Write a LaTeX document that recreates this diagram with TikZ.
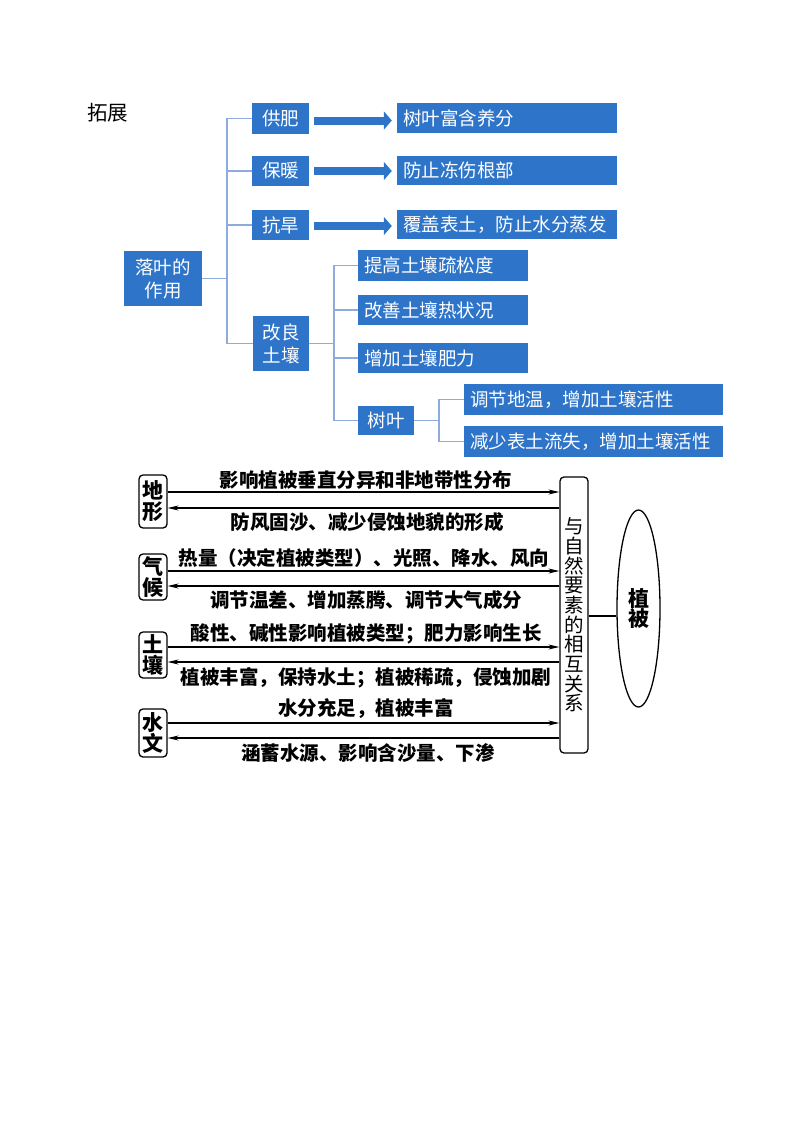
\documentclass[tikz,border=0pt]{standalone}
\usepackage{fontspec}
\newfontfamily\cjk{Noto Sans CJK SC}
\usetikzlibrary{arrows.meta,shapes.geometric}
\definecolor{myblue}{RGB}{46,117,202}
\definecolor{conncol}{RGB}{143,170,220}
\begin{document}
\begin{tikzpicture}[x=1pt,y=-1pt,
  bb/.style={fill=myblue,text=white,inner sep=0pt,align=center,font=\cjk\fontsize{18.5}{23}\selectfont},
  lb/.style={bb,text width=#1,align=left,inner xsep=6pt,inner ysep=0pt},
  conn/.style={draw=conncol,line width=1.4pt},
  bigarr/.style={draw=myblue,line width=8pt,-{Triangle[width=18pt,length=8pt]}},
  sbox/.style={draw,rounded corners=4pt,line width=1.3pt,inner sep=0pt,minimum width=28pt,align=center,font=\cjk\bfseries\fontsize{21}{21}\selectfont},
  lab/.style={inner sep=0pt,font=\cjk\bfseries\fontsize{19.5}{22}\selectfont},
  harr/.style={line width=1.2pt,-{Stealth[length=11pt,width=5pt]}}]
\useasboundingbox[fill=white] (0,0) rectangle (800,1132);
% ---------- top part ----------
\node[inner sep=0pt,font=\cjk\fontsize{20.5}{24}\selectfont] (tz) at (107.5,112.5) {拓展};
\node[bb,minimum width=78pt,minimum height=55pt] (lyzy) at (163,278.5) {落叶的\\作用};
\node[bb,minimum width=57pt,minimum height=31pt] (gf) at (280.5,118.5) {供肥};
\node[bb,minimum width=57pt,minimum height=30pt] (bn) at (280.5,171) {保暖};
\node[bb,minimum width=57pt,minimum height=30pt] (kh) at (280.5,225) {抗旱};
\node[bb,minimum width=56pt,minimum height=55pt] (glr) at (281,343.5) {改良\\土壤};
\node[lb=208pt,minimum height=30pt] (r1) at (507,118) {树叶富含养分};
\node[lb=208pt,minimum height=29pt] (r2) at (507,170.5) {防止冻伤根部};
\node[lb=208pt,minimum height=29pt] (r3) at (507,224.5) {覆盖表土，防止水分蒸发};
\node[lb=158pt,minimum height=31pt] (s1) at (443,265.5) {提高土壤疏松度};
\node[lb=158pt,minimum height=30pt] (s2) at (443,310) {改善土壤热状况};
\node[lb=158pt,minimum height=30pt] (s3) at (443,358) {增加土壤肥力};
\node[bb,minimum width=56pt,minimum height=29pt] (sy) at (386,420.5) {树叶};
\node[lb=247pt,minimum height=31pt] (t1) at (593.5,399.5) {调节地温，增加土壤活性};
\node[lb=247pt,minimum height=31pt] (t2) at (593.5,441.5) {减少表土流失，增加土壤活性};
\coordinate (v1) at (227,0);
\coordinate (v2) at (334,0);
\coordinate (v3) at (439,0);
\draw[conn] (gf.west) -| (glr.west -| v1) -- (glr.west);
\draw[conn] (bn.west) -- (bn.west -| v1);
\draw[conn] (kh.west) -- (kh.west -| v1);
\draw[conn] (lyzy.east) -- (lyzy.east -| v1);
\draw[conn] (s1.west) -| (sy.west -| v2) -- (sy.west);
\draw[conn] (s2.west) -- (s2.west -| v2);
\draw[conn] (s3.west) -- (s3.west -| v2);
\draw[conn] (glr.east) -- (glr.east -| v2);
\draw[conn] (t1.west) -| (t2.west -| v3) -- (t2.west);
\draw[conn] (sy.east) -- (sy.east -| v3);
\draw[bigarr] ([xshift=5pt,yshift=-2pt]gf.east) -- ([xshift=-5pt,yshift=-2pt]gf.east -| r1.west);
\draw[bigarr] ([xshift=5pt]bn.east) -- ([xshift=-5pt]bn.east -| r2.west);
\draw[bigarr] ([xshift=5pt,yshift=-1pt]kh.east) -- ([xshift=-5pt,yshift=-1pt]kh.east -| r3.west);
% ---------- bottom part ----------
\node[sbox,minimum height=53pt] (dx) at (153,501.5) {地\\形};
\node[sbox,minimum height=46pt] (qh) at (153,577) {气\\候};
\node[sbox,minimum height=46pt] (tr) at (153,655) {土\\壤};
\node[sbox,minimum height=48pt] (sw) at (153,733) {水\\文};
\node[draw,rounded corners=4pt,line width=1.3pt,inner sep=0pt,minimum width=28pt,minimum height=276pt,align=center,
      font=\cjk\fontsize{19.5}{19.7}\selectfont] (tb) at (574,615) {与\\自\\然\\要\\素\\的\\相\\互\\关\\系};
\node[draw,ellipse,line width=1.3pt,inner sep=0pt,minimum width=43pt,minimum height=197pt,align=center,
      font=\cjk\bfseries\fontsize{21}{20}\selectfont] (el) at (638.5,608.5) {植\\被};
\draw[line width=1.2pt] (tb.east |- 0,616) -- (el.west |- 0,616);
% arrows
\draw[harr] (dx.east |- 0,492) -- (tb.west |- 0,492);
\draw[harr] (tb.west |- 0,508) -- (dx.east |- 0,508);
\draw[harr] (qh.east |- 0,571) -- (tb.west |- 0,571);
\draw[harr] (tb.west |- 0,586) -- (qh.east |- 0,586);
\draw[harr] (tr.east |- 0,647) -- (tb.west |- 0,647);
\draw[harr] (tb.west |- 0,662) -- (tr.east |- 0,662);
\draw[harr] (sw.east |- 0,723) -- (tb.west |- 0,723);
\draw[harr] (tb.west |- 0,738) -- (sw.east |- 0,738);
% labels
\node[lab] (l1) at (366,480) {影响植被垂直分异和非地带性分布};
\node[lab] (l2) at (367,522) {防风固沙、减少侵蚀地貌的形成};
\node[lab] (l3) at (364,558) {热量（决定植被类型）、光照、降水、风向};
\node[lab] (l4) at (366,600) {调节温差、增加蒸腾、调节大气成分};
\node[lab] (l5) at (366,634) {酸性、碱性影响植被类型；肥力影响生长};
\node[lab] (l6) at (366,678) {植被丰富，保持水土；植被稀疏，侵蚀加剧};
\node[lab] (l7) at (366,709) {水分充足，植被丰富};
\node[lab] (l8) at (368,753) {涵蓄水源、影响含沙量、下渗};
\end{tikzpicture}
\end{document}
